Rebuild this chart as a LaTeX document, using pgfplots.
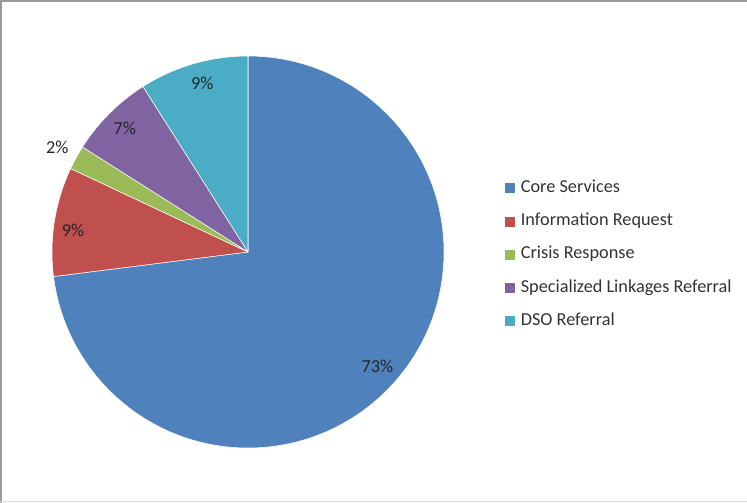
\documentclass[border=0pt]{standalone}
\usepackage{pgfplots}
\pgfplotsset{compat=1.18}
\usepackage{pgfplotstable}
\usepackage{fontspec}
\setmainfont{Carlito}

\definecolor{pieblue}{HTML}{4F81BD}
\definecolor{piered}{HTML}{C0504D}
\definecolor{piegreen}{HTML}{9BBB59}
\definecolor{piepurple}{HTML}{8064A2}
\definecolor{pieaqua}{HTML}{4BACC6}

% share (%), slice colour, label distance (in radii), label angle shift (deg)
\pgfplotstableread[col sep=comma, row sep=\\]{
name,value,color,labr,labshift\\
Core Services,73,pieblue,0.88,0\\
Information Request,9,piered,0.90,2\\
Crisis Response,2,piegreen,1.11,0\\
Specialized Linkages Referral,7,piepurple,0.89,0\\
DSO Referral,9,pieaqua,0.89,-1\\
}\piedata

\newcommand\pieR{147pt}

\begin{document}
\begin{tikzpicture}[font=\fontsize{13.7}{16}\selectfont]
  \path[use as bounding box] (0,0) rectangle (560.25pt,-377.25pt);
  \draw[black!40, line width=1.4pt] (0.8pt,-377.25pt) -- (0.8pt,-0.8pt) -- (560.25pt,-0.8pt);
  \draw[black!15, line width=0.8pt] (0,-376.1pt) -- (560.25pt,-376.1pt);

  \begin{axis}[
      at={(186pt,-189pt)}, anchor=center,
      scale only axis, width=294pt, height=294pt,
      xmin=-1, xmax=1, ymin=-1, ymax=1,
      hide axis, clip=false,
      legend style={
        at={(1.1556,0.4935)}, anchor=west,
        draw=none, fill=none, inner sep=0pt,
        font=\fontsize{13.7}{16}\selectfont,
        text=black!80,
        nodes={inner sep=0pt, text height=9.5pt, text depth=3pt},
        column sep=4.5pt, row sep=12.4pt,
      },
      legend cell align=left,
    ]
    \addlegendimage{legend image code/.code={\fill[pieblue] (0pt,-3.4pt) rectangle (6.8pt,3.4pt);}}
    \addlegendentry{Core Services}
    \addlegendimage{legend image code/.code={\fill[piered] (0pt,-3.4pt) rectangle (6.8pt,3.4pt);}}
    \addlegendentry{Information Request}
    \addlegendimage{legend image code/.code={\fill[piegreen] (0pt,-3.4pt) rectangle (6.8pt,3.4pt);}}
    \addlegendentry{Crisis Response}
    \addlegendimage{legend image code/.code={\fill[piepurple] (0pt,-3.4pt) rectangle (6.8pt,3.4pt);}}
    \addlegendentry{Specialized Linkages Referral}
    \addlegendimage{legend image code/.code={\fill[pieaqua] (0pt,-3.4pt) rectangle (6.8pt,3.4pt);}}
    \addlegendentry{DSO Referral}

    \pgfplotsextra{%
      \gdef\startang{90}%
      \pgfplotstablegetrowsof{\piedata}%
      \pgfmathtruncatemacro\lastrow{\pgfplotsretval-1}%
      \foreach \i in {0,...,\lastrow}{%
        \pgfplotstablegetelem{\i}{value}\of\piedata \let\val\pgfplotsretval
        \pgfplotstablegetelem{\i}{color}\of\piedata \let\col\pgfplotsretval
        \pgfplotstablegetelem{\i}{labr}\of\piedata \let\lr\pgfplotsretval
        \pgfplotstablegetelem{\i}{labshift}\of\piedata \let\ls\pgfplotsretval
        \pgfmathsetmacro\endang{\startang-3.6*\val}%
        \pgfmathsetmacro\midang{(\startang+\endang)/2+\ls}%
        \pgfmathsetmacro\sx{cos(\startang)}%
        \pgfmathsetmacro\sy{sin(\startang)}%
        \pgfmathsetmacro\lx{\lr*cos(\midang)}%
        \pgfmathsetmacro\ly{\lr*sin(\midang)}%
        \fill[\col, draw=white, line width=0.4pt, line join=round]
          (axis cs:0,0) -- (axis cs:\sx,\sy)
          arc[start angle=\startang, end angle=\endang, radius=\pieR] -- cycle;
        \node[text=black!85, inner sep=0pt] at (axis cs:\lx,\ly) {\val\%};
        \xdef\startang{\endang}%
      }%
    }
  \end{axis}
\end{tikzpicture}
\end{document}
